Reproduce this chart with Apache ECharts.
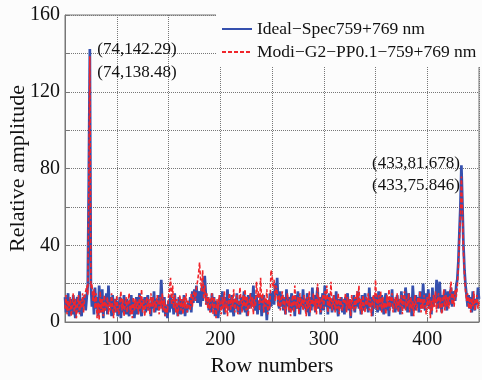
<!DOCTYPE html>
<html>
<head>
<meta charset="utf-8">
<script src="https://cdn.jsdelivr.net/npm/echarts@6/dist/echarts.min.js"></script>
<style>
  html, body { margin: 0; padding: 0; background: #fcfcfc; }
  #chart { width: 482px; height: 380px; }
</style>
</head>
<body>
<div id="chart"></div>
<script>
// row numbers 50..450, one value per row
const rowStart = 50;

const idealSpec = [
  13,5,9,15,3,8,12,4,14,7,
  2,11,13,5,16,8,3,12,9,14,
  6,13,19,76,142.29,20,8,15,4,18,
  7,13,3,19,10,5,17,2,12,6,
  15,4,19,8,13,3,14,7,5,12,
  9,3,7,13,2,11,5,14,8,4,
  12,6,3,9,14,5,11,2,8,13,
  4,9,15,6,3,12,8,13,5,11,
  14,6,10,3,13,7,16,5,9,12,
  6,14,8,22,10,5,13,3,9,2,
  11,5,14,7,12,4,15,6,9,3,
  13,7,4,12,6,14,3,9,5,11,
  7,13,5,16,10,17,12,19,10,16,
  14,8,18,11,20,24,15,9,13,6,
  12,5,15,7,13,3,11,6,2,9,
  14,7,16,10,4,13,8,17,6,12,
  5,14,8,3,12,7,15,5,11,4,
  13,6,9,16,5,12,3,14,7,11,
  15,8,19,10,6,14,4,11,7,13,
  3,9,14,5,12,1,11,6,15,8,
  13,16,9,20,14,23,10,7,16,8,
  14,6,12,4,17,8,13,5,11,15,
  6,12,3,14,7,16,10,4,13,8,
  17,7,12,5,15,10,3,13,6,18,
  8,14,5,12,18,7,13,4,11,15,
  6,19,8,13,4,15,7,12,5,11,
  14,6,16,8,3,12,7,13,5,11,
  4,13,8,15,6,12,2,11,7,14,
  5,13,8,16,7,12,4,14,6,11,
  15,7,12,5,18,8,13,3,11,14,
  7,13,5,16,10,6,14,8,4,12,
  15,6,11,3,13,8,17,7,12,5,
  11,14,6,12,4,16,8,13,7,18,
  12,5,15,8,13,3,19,10,6,14,
  8,13,5,16,10,7,20,11,6,15,
  9,17,7,13,4,18,8,14,10,22,
  7,15,21,10,5,14,8,17,11,6,
  16,9,13,18,8,14,16,11,19,22,
  31,46,60,81.678,62,40,27,19,14,8,
  14,7,13,5,16,10,6,12,9,18,
  12
];

const modiSpec = [
  7,14,4,11,6,13,3,9,15,5,
  12,2,9,14,4,11,7,15,5,13,
  16,19,14,70,138.48,18,20,11,17,7,
  15,2,10,1,16,5,12,3,14,6,
  9,13,4,11,6,15,7,2,12,5,
  14,7,4,10,16,6,12,3,9,13,
  5,11,15,4,9,2,13,6,12,7,
  11,4,14,7,17,5,12,3,9,13,
  6,12,4,15,8,13,5,11,7,14,
  10,4,13,7,15,6,12,3,9,5,
  13,17,23,9,19,7,14,5,12,3,
  9,14,6,12,4,13,7,15,5,11,
  12,6,15,8,14,16,11,18,21,25,
  31,22,16,27,12,19,9,15,7,13,
  5,11,15,4,13,7,2,12,6,14,
  9,4,13,7,16,5,11,3,12,15,
  6,13,8,17,5,11,14,4,8,18,
  12,5,14,8,17,6,13,3,10,15,
  7,13,4,12,8,21,13,16,6,23,
  10,15,5,13,8,17,4,12,7,27,
  25,18,22,11,19,15,8,14,6,12,
  16,7,13,4,10,15,6,12,3,9,
  14,5,19,10,7,13,4,15,8,12,
  6,14,10,3,13,7,16,5,12,9,
  15,6,12,4,20,8,13,5,11,14,
  7,16,11,19,5,13,8,21,6,10,
  14,5,12,7,15,4,13,9,6,12,
  10,15,5,13,7,12,3,14,8,6,
  13,7,16,10,19,6,12,4,14,8,
  5,13,9,15,6,12,3,11,14,7,
  22,12,6,14,8,16,5,13,7,10,
  4,14,8,17,6,12,15,5,10,13,
  7,15,5,12,8,14,4,13,16,6,
  12,8,15,5,13,7,11,3,14,9,
  6,13,10,16,5,12,7,14,8,4,
  13,7,15,2,11,6,14,8,16,5,
  12,15,7,13,4,11,17,6,14,8,
  13,7,16,21,9,15,8,17,13,18,
  28,42,55,75.846,58,36,24,16,11,15,
  7,13,5,12,8,16,6,11,14,7,
  11
];

const seriesNames = ["Ideal\u2212Spec759+769 nm", "Modi\u2212G2\u2212PP0.1\u2212759+769 nm"];
const peakRows = [74, 433];

const toPairs = arr => arr.map((v, i) => [rowStart + i, v]);
const peakOf = (arr, row) => arr[row - rowStart];

const font = "Liberation Serif";

function peakMarks(arr, offs) {
  return {
    symbol: "circle",
    symbolSize: 1,
    itemStyle: { color: "rgba(0,0,0,0)" },
    label: {
      show: true,
      color: "#111",
      fontFamily: font,
      fontSize: 17,
      formatter: p => "(" + p.data.coord[0] + "," + p.data.coord[1] + ")"
    },
    data: peakRows.map((r, k) => ({
      coord: [r, peakOf(arr, r)],
      label: { position: k === 0 ? "right" : "left", offset: offs[k] }
    }))
  };
}

let myChart = echarts.init(document.getElementById("chart"));
myChart.setOption({
  animation: false,
  backgroundColor: "#fcfcfc",
  grid: {
    left: 65,
    right: 3,
    top: 15,
    bottom: 58,
    outerBoundsMode: "none",
    containLabel: false,
    show: true,
    borderColor: "#777",
    borderWidth: 1
  },
  legend: {
    orient: "vertical",
    left: 216,
    top: 14,
    padding: [6, 6, 6, 5],
    itemGap: 5,
    itemWidth: 30,
    itemHeight: 14,
    itemStyle: { opacity: 0 },
    backgroundColor: "#fcfcfc",
    textStyle: { fontFamily: font, fontSize: 17.5, color: "#111" },
    data: seriesNames
  },
  xAxis: {
    type: "value",
    min: 50,
    max: 450,
    interval: 50,
    name: "Row numbers",
    nameLocation: "middle",
    nameGap: 31,
    nameTextStyle: { fontFamily: font, fontSize: 22, color: "#111" },
    axisLine: { lineStyle: { color: "#777" } },
    axisTick: { inside: true, length: 4, lineStyle: { color: "#777" } },
    axisLabel: {
      fontFamily: font,
      fontSize: 20,
      color: "#111",
      margin: 8,
      formatter: v => (v % 100 === 0 ? v : "")
    },
    splitLine: { show: true, lineStyle: { color: "#777", type: "dotted" } }
  },
  yAxis: {
    type: "value",
    min: 0,
    max: 160,
    interval: 20,
    name: "Relative amplitude",
    nameLocation: "middle",
    nameGap: 36,
    nameMoveOverlap: false,
    nameTextStyle: { fontFamily: font, fontSize: 22, color: "#111" },
    axisLine: { show: true, lineStyle: { color: "#777" } },
    axisTick: { show: true, inside: true, length: 4, lineStyle: { color: "#777" } },
    axisLabel: {
      fontFamily: font,
      fontSize: 20,
      color: "#111",
      margin: 5,
      formatter: v => (v % 40 === 0 ? v : "")
    },
    splitLine: { show: true, lineStyle: { color: "#777", type: "dotted" } }
  },
  series: [
    {
      name: seriesNames[0],
      type: "line",
      symbol: "none",
      data: toPairs(idealSpec),
      color: "#3550ae",
      lineStyle: { color: "#3550ae", width: 2.7 },
      markPoint: peakMarks(idealSpec, [[2, 1], [4, -2]])
    },
    {
      name: seriesNames[1],
      type: "line",
      symbol: "none",
      data: toPairs(modiSpec),
      color: "#f0262c",
      lineStyle: { color: "#f0262c", width: 1.6, type: [4, 2] },
      markPoint: peakMarks(modiSpec, [[2, 16], [4, 9]])
    }
  ]
});
</script>
</body>
</html>
